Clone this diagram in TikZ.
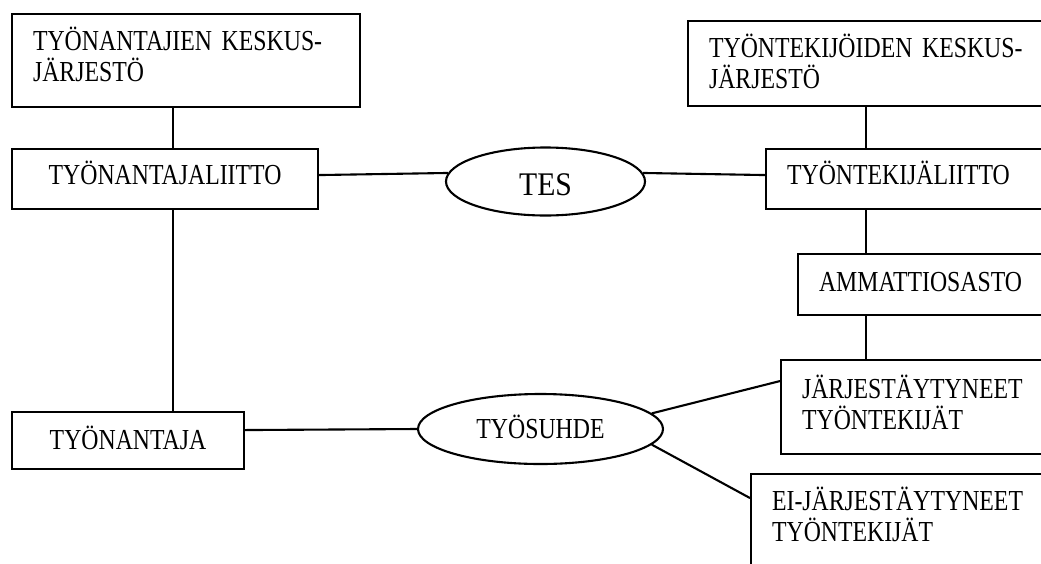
\documentclass[tikz,border=0pt]{standalone}
\usepackage{fontspec}
\setmainfont{Liberation Serif}[FakeStretch=0.82]
\newfontfamily\tesfont{Liberation Serif}[FakeStretch=0.9]
\usetikzlibrary{shapes.geometric}
\begin{document}
\begin{tikzpicture}[x=1pt,y=-1pt,line width=2.1pt,
  box/.style={draw, rectangle, inner xsep=21pt, inner ysep=0pt, anchor=north west,
    text height=20pt, font=\fontsize{29}{31}\selectfont},
  oval/.style={draw, ellipse, inner sep=0pt}]
\useasboundingbox (0,0) rectangle (1041,563);
\clip (0,0) rectangle (1041,563);
% left column
\node[box, align=left, text width=306pt, minimum height=93pt, text depth=40pt] (A) at (11,13) {TYÖNANTAJIEN KESKUS-\\JÄRJESTÖ};
\node[box, align=center, text width=264pt, minimum height=60pt, text depth=9pt] (B) at (11,148) {TYÖNANTAJALIITTO};
\node[box, align=center, text width=190pt, minimum height=57pt, text depth=3pt] (H) at (11,411) {TYÖNANTAJA};
% right column
\node[box, align=left, text width=331pt, minimum height=85pt, text depth=33pt] (C) at (687,20) {TYÖNTEKIJÖIDEN KESKUS-\\JÄRJESTÖ};
\node[box, align=left, text width=253pt, minimum height=60pt, text depth=10pt] (D) at (765,148) {TYÖNTEKIJÄLIITTO};
\node[box, align=left, text width=221pt, minimum height=61pt, text depth=7pt] (E) at (797,253) {AMMATTIOSASTO};
\node[box, align=left, text width=238pt, minimum height=94pt, text depth=38pt] (F) at (780,359) {JÄRJESTÄYTYNEET\\TYÖNTEKIJÄT};
\node[box, align=left, text width=268pt, minimum height=93pt, text depth=41pt] (G) at (750,473) {EI-JÄRJESTÄYTYNEET\\TYÖNTEKIJÄT};
% ovals
\node[oval, minimum width=199pt, minimum height=68pt, text height=27pt, text depth=0pt,
  font=\tesfont\fontsize{33}{36}\selectfont] (TES) at (545.5,181.5) {TES};
\node[oval, minimum width=245pt, minimum height=70pt, text height=20pt, text depth=2pt,
  font=\fontsize{29}{30}\selectfont] (TS) at (540.5,429) {TYÖSUHDE};
% connectors
\coordinate (lx) at (173,0);
\coordinate (rx) at (866,0);
\draw (lx |- A.south) -- (lx |- B.north);
\draw (lx |- B.south) -- (lx |- H.north);
\draw (rx |- C.south) -- (rx |- D.north);
\draw (rx |- D.south) -- (rx |- E.north);
\draw (rx |- E.south) -- (rx |- F.north);
\draw ([yshift=4pt]B.east) -- (TES.175);
\draw (TES.5) -- ([yshift=4pt]D.west);
\draw ([yshift=10.5pt]H.east) -- (TS.west);
\draw (TS.8) -- ([yshift=26pt]F.west);
\draw (TS.-8) -- ([yshift=22.5pt]G.west);
\end{tikzpicture}
\end{document}
